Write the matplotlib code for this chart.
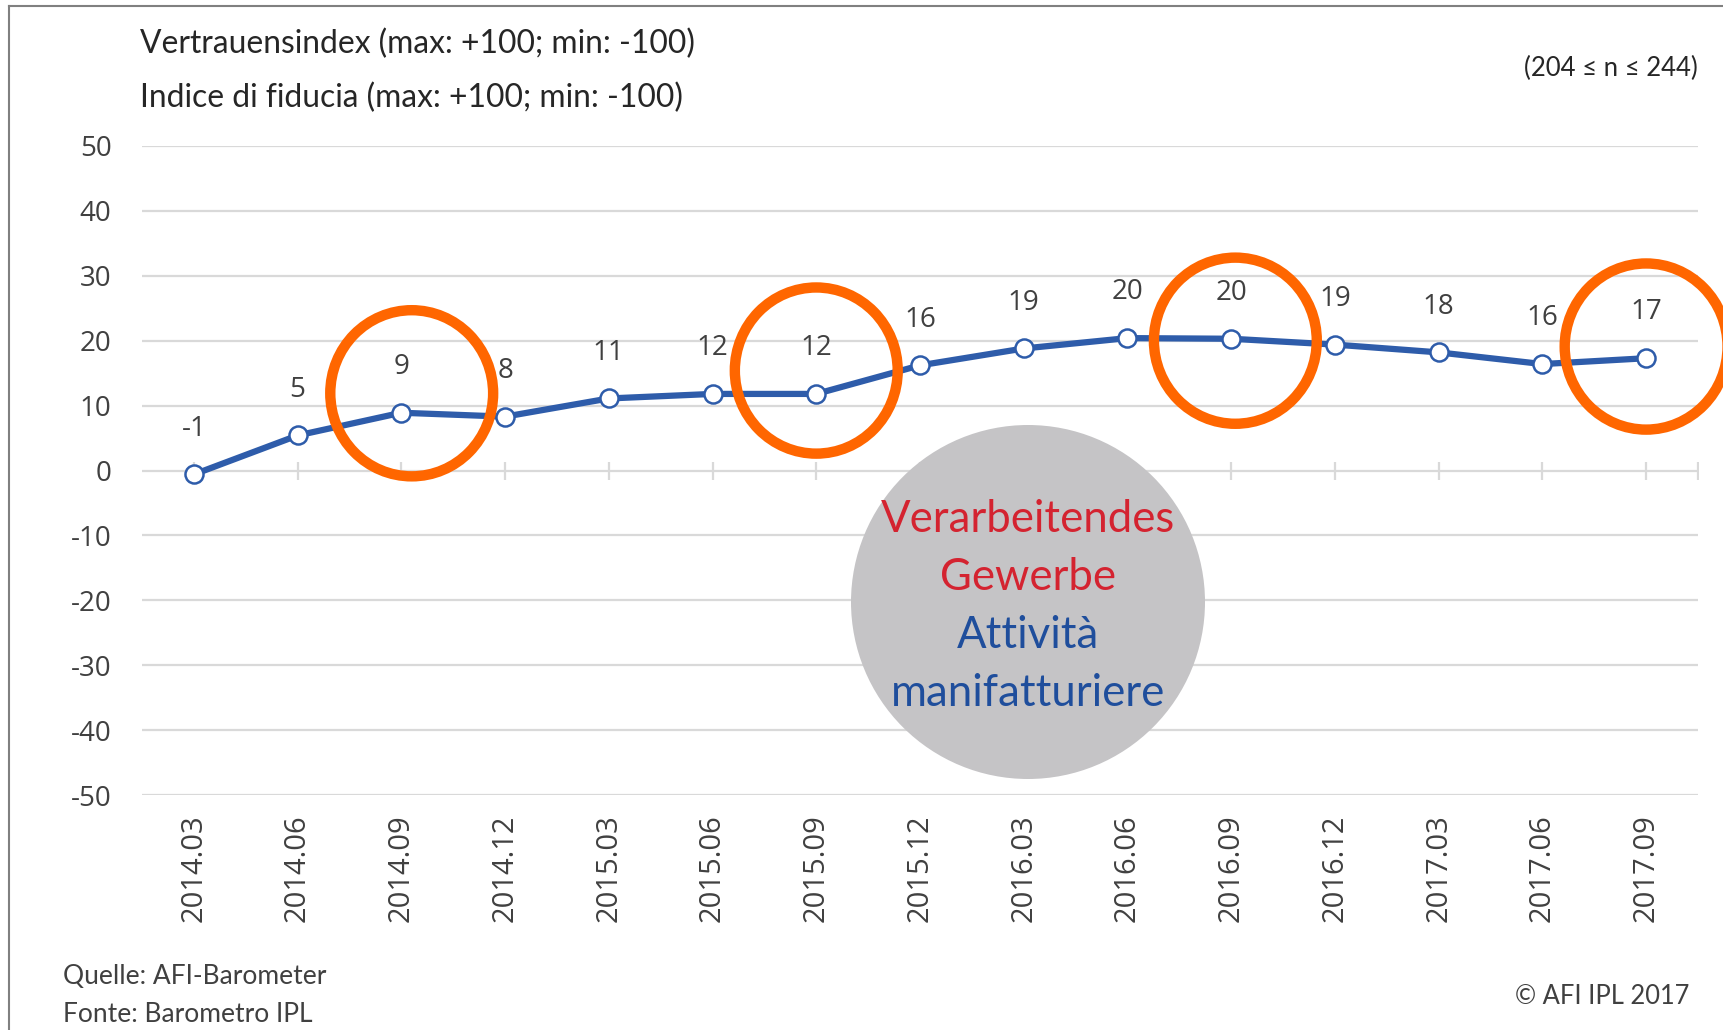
import matplotlib
matplotlib.use("Agg")
import matplotlib.pyplot as plt
from matplotlib.patches import Ellipse, Circle
from matplotlib.lines import Line2D

categories = ["2014.03", "2014.06", "2014.09", "2014.12", "2015.03", "2015.06",
              "2015.09", "2015.12", "2016.03", "2016.06", "2016.09", "2016.12",
              "2017.03", "2017.06", "2017.09"]
values = [-0.6, 5.4, 8.9, 8.3, 11.1, 11.8, 11.8, 16.2, 18.8, 20.4, 20.3, 19.4, 18.2, 16.4, 17.3]
highlight = ["2014.09", "2015.09", "2016.09", "2017.09"]
highlight_dx = [0.1, 0.0, 0.04, 0.0]
highlight_dy = [3.0, 3.6, -0.3, 1.8]
yticks = [50, 40, 30, 20, 10, 0, -10, -20, -30, -40, -50]

title_de = "Vertrauensindex (max: +100; min: -100)"
title_it = "Indice di fiducia (max: +100; min: -100)"
n_text = "(204 \u2264 n \u2264 244)"
source_de = "Quelle: AFI-Barometer"
source_it = "Fonte: Barometro IPL"
copyright_text = "\u00a9 AFI IPL 2017"
sector_de = ["Verarbeitendes", "Gewerbe"]
sector_it = ["Attivit\u00e0", "manifatturiere"]

W, H, DPI = 1723, 1030, 100
fig = plt.figure(figsize=(W / DPI, H / DPI), dpi=DPI)
fig.patch.set_facecolor("white")

ax = fig.add_axes([142 / W, 1 - 795 / H, (1698 - 142) / W, (795 - 146) / H])
ax.set_xlim(-0.5, len(categories) - 0.5)
ax.set_ylim(-50, 50)
for s in ax.spines.values():
    s.set_visible(False)

grid_c = "#d9d9d9"
ax.set_yticks(yticks)
ax.set_yticklabels([str(t) for t in yticks], fontsize=20, color="#404040",
                   family=["Open Sans", "DejaVu Sans"])
ax.yaxis.grid(True, color=grid_c, linewidth=1.6)
ax.set_axisbelow(True)
ax.tick_params(axis="y", length=0, pad=22)

x = list(range(len(categories)))
ax.set_xticks(x)
ax.set_xticklabels(categories, rotation=90, fontsize=21, color="#404040",
                   family=["Open Sans", "DejaVu Sans"])
ax.tick_params(axis="x", length=0, pad=14)

# small tick marks across the zero line
ax.plot(x + [len(categories) - 0.5], [0] * (len(categories) + 1), linestyle="none",
        marker="|", markersize=13, markeredgewidth=1.6, color=grid_c, zorder=1)

blue = "#2e5caa"
ax.plot(x, values, color=blue, linewidth=4.5, marker="o", markersize=13,
        markerfacecolor="white", markeredgecolor=blue, markeredgewidth=1.8, zorder=3)

for xi, v in zip(x, values):
    ax.annotate(f"{v:.0f}", (xi, v), xytext=(0, 33), textcoords="offset points",
                ha="center", va="center", fontsize=20, color="#404040",
                family=["Open Sans", "DejaVu Sans"], zorder=4)

# orange highlight circles
for cat, dx, dy in zip(highlight, highlight_dx, highlight_dy):
    i = categories.index(cat)
    e = Ellipse((i + dx, values[i] + dy), width=1.57, height=25.6, fill=False,
                edgecolor="#ff6600", linewidth=7.5, clip_on=False, zorder=5)
    ax.add_patch(e)

# gray circle with sector name
circ = Circle((1028 / DPI, (H - 602) / DPI), 177 / DPI, transform=fig.dpi_scale_trans,
              facecolor="#c5c4c6", edgecolor="none", zorder=6)
fig.add_artist(circ)
ys = [519, 577, 635, 693]
cols = ["#d42330", "#d42330", "#1f4e9c", "#1f4e9c"]
for txt, yy, c in zip(sector_de + sector_it, ys, cols):
    fig.text(1028 / W, 1 - yy / H, txt, ha="center", va="center", fontsize=31.5,
             color=c, family=["Lato", "DejaVu Sans"], zorder=7)

# titles and notes
tfont = dict(family=["Lato", "DejaVu Sans"], va="center")
fig.text(140 / W, 1 - 44 / H, title_de, fontsize=22.9, color="#262626", ha="left", **tfont)
fig.text(140 / W, 1 - 98 / H, title_it, fontsize=22.9, color="#262626", ha="left", **tfont)
fig.text(1698 / W, 1 - 68 / H, n_text, fontsize=18.5, color="#262626", ha="right", **tfont)
fig.text(63 / W, 1 - 976 / H, source_de, fontsize=19, color="#404040", ha="left", **tfont)
fig.text(63 / W, 1 - 1014 / H, source_it, fontsize=19, color="#404040", ha="left", **tfont)
fig.text(1689 / W, 1 - 997 / H, copyright_text, fontsize=18.4, color="#404040", ha="right", **tfont)

# frame lines
fig.add_artist(Line2D([9 / W, 9 / W], [0, 1 - 6 / H], transform=fig.transFigure,
                      color="#808080", linewidth=1.5))
fig.add_artist(Line2D([9 / W, 1], [1 - 6 / H, 1 - 6 / H], transform=fig.transFigure,
                      color="#808080", linewidth=1.5))

fig.savefig("out.png", dpi=DPI, facecolor="white")
